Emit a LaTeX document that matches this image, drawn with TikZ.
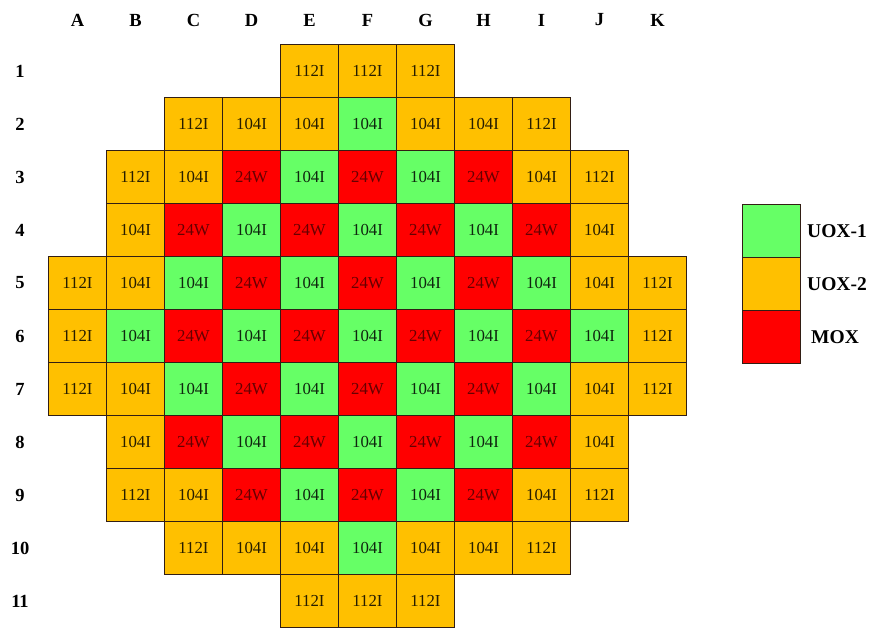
\documentclass[tikz,border=0pt]{standalone}
\usepackage{fontspec}
\setmainfont{Liberation Serif}
\definecolor{uoxone}{RGB}{102,255,102}
\definecolor{uoxtwo}{RGB}{255,192,0}
\definecolor{moxred}{RGB}{255,0,0}
\definecolor{edge}{RGB}{50,30,20}
\tikzset{
  cell/.style={minimum width=58pt, minimum height=53pt,
    inner sep=0pt, outer sep=0pt, font=\fontsize{16.8}{16.8}\selectfont},
  cella/.style={cell, fill=uoxtwo, text=black!85!uoxtwo},
  cellb/.style={cell, fill=uoxtwo, text=black!85!uoxtwo},
  cellg/.style={cell, fill=uoxone, text=black!85!uoxone},
  cellr/.style={cell, fill=moxred, text=black!60!moxred},
  rim/.style={draw=edge, line width=1.5pt},
  head/.style={font=\bfseries\fontsize{18.5}{18.5}\selectfont, inner sep=0pt},
  legtxt/.style={font=\bfseries\fontsize{19.5}{19.5}\selectfont, inner sep=0pt, anchor=west},
}
\def\laba{112I}
\def\labb{104I}
\def\labg{104I}
\def\labr{24W}
\def\corelist{
  1/4/{a,a,a},
  2/2/{a,b,b,g,b,b,a},
  3/1/{a,b,r,g,r,g,r,b,a},
  4/1/{b,r,g,r,g,r,g,r,b},
  5/0/{a,b,g,r,g,r,g,r,g,b,a},
  6/0/{a,g,r,g,r,g,r,g,r,g,a},
  7/0/{a,b,g,r,g,r,g,r,g,b,a},
  8/1/{b,r,g,r,g,r,g,r,b},
  9/1/{a,b,r,g,r,g,r,b,a},
  10/2/{a,b,b,g,b,b,a},
  11/4/{a,a,a}}
\begin{document}
\begin{tikzpicture}[x=1pt,y=-1pt]
\useasboundingbox (0,0) rectangle (869,628);
% column headers
\foreach \L [count=\i from 0] in {A,B,C,D,E,F,G,H,I,J,K}
  \node[head] (col\L) at ({77.5+58*\i},20) {\L};
% row headers
\foreach \r in {1,...,11}
  \node[head] (row\r) at (20,{71+53*(\r-1)}) {\r};
% cells (fills and texts)
\foreach \r/\s/\lst in \corelist {
  \foreach \t [count=\i from \s] in \lst
    \node[cell\t] (c\i-\r) at ({77.5+58*\i},{71+53*(\r-1)}) {\csname lab\t\endcsname};
}
% cell borders
\foreach \r/\s/\lst in \corelist {
  \foreach \t [count=\i from \s] in \lst
    \draw[rim] (c\i-\r.north west) rectangle (c\i-\r.south east);
}
% legend
\node[cellg] (legone) at (771.5,231) {};
\node[cellb] (legtwo) at (771.5,284) {};
\node[cellr] (legmox) at (771.5,337) {};
\foreach \n in {legone,legtwo,legmox}
  \draw[rim] (\n.north west) rectangle (\n.south east);
\node[legtxt] (tone) at (807,231) {UOX-1};
\node[legtxt] (ttwo) at (807,284) {UOX-2};
\node[legtxt] (tmox) at (811,337) {MOX};
\end{tikzpicture}
\end{document}
